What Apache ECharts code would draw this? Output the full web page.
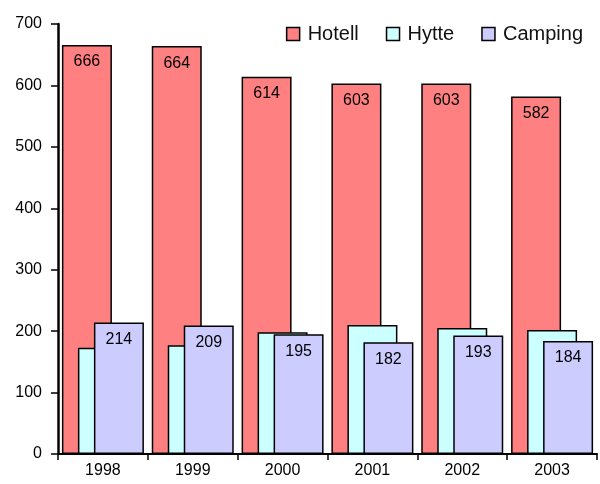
<!DOCTYPE html>
<html>
<head>
<meta charset="utf-8">
<script src="https://cdn.jsdelivr.net/npm/echarts@6/dist/echarts.min.js"></script>
<style>
  html, body { margin: 0; padding: 0; background: #fff; }
  #main { width: 600px; height: 484px; }
</style>
</head>
<body>
<div id="main"></div>
<script>
var years = ['1998', '1999', '2000', '2001', '2002', '2003'];
var hotell = [666, 664, 614, 603, 603, 582];
var hytte = [173, 177, 198, 210, 205, 202];
var camping = [214, 209, 195, 182, 193, 184];

var myChart = echarts.init(document.getElementById('main'));

function barSeries(name, data, color, showLabel) {
	return {
		name : name,
		type : 'bar',
		data : data,
		barWidth : 50,
		barGap : '-68%',
		itemStyle : {
			color : color,
			borderColor : '#000',
			borderWidth : 1.5
		},
		label : {
			show : showLabel,
			position : 'insideTop',
			distance : 9,
			color : '#000',
			fontSize : 16,
			fontFamily : 'Liberation Sans, Arial, sans-serif'
		},
		emphasis : { disabled : true }
	};
}

var option = {
	animation : false,
	textStyle : {
		fontFamily : 'Liberation Sans, Arial, sans-serif'
	},
	legend : {
		data : [ 'Hotell', 'Hytte', 'Camping' ],
		right : 12,
		top : 19,
		icon : 'rect',
		itemWidth : 13,
		itemHeight : 13,
		itemGap : 27,
		textStyle : {
			fontSize : 20,
			color : '#111',
			padding : [0, 0, 0, 3]
		},
		itemStyle : {
			borderColor : '#000',
			borderWidth : 1.5
		}
	},
	grid : {
		left : 58,
		right : 3,
		top : 24,
		bottom : 30,
		containLabel : false
	},
	xAxis : [ {
		type : 'category',
		data : years,
		axisLine : { lineStyle : { color : '#000', width : 2 } },
		axisTick : { show : true, length : 6, lineStyle : { color : '#000', width : 1.5 } },
		axisLabel : { color : '#000', fontSize : 16, margin : 9 },
		splitLine : { show : false }
	} ],
	yAxis : [ {
		type : 'value',
		min : 0,
		max : 700,
		interval : 100,
		axisLine : { show : true, lineStyle : { color : '#000', width : 2.5 } },
		axisTick : { show : true, length : 7, lineStyle : { color : '#000', width : 1.5 } },
		axisLabel : { color : '#000', fontSize : 16, margin : 16 },
		splitLine : { show : false }
	} ],
	series : [
		barSeries('Hotell', hotell, '#FF8080', true),
		barSeries('Hytte', hytte, '#CCFFFF', false),
		barSeries('Camping', camping, '#CCCCFF', true)
	]
};
myChart.setOption(option);
</script>
</body>
</html>
